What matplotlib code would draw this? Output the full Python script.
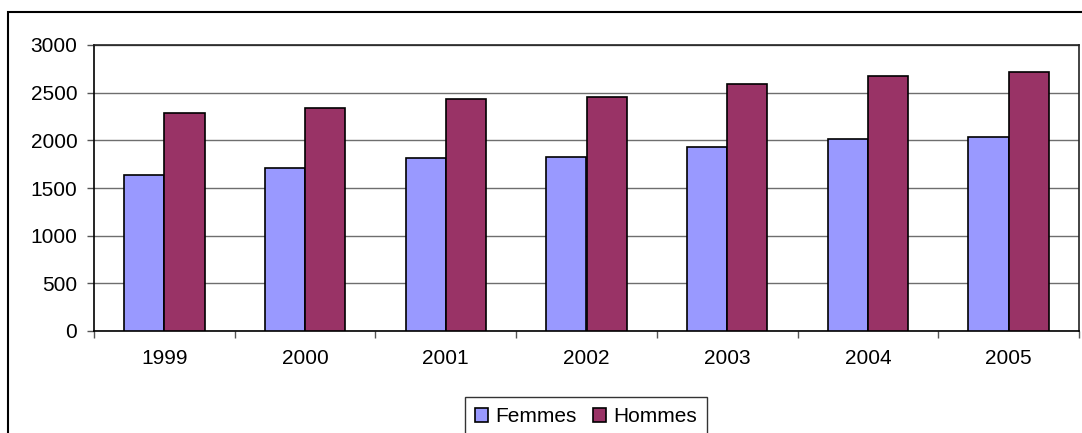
import matplotlib
matplotlib.use('Agg')
import matplotlib.pyplot as plt
import numpy as np
from matplotlib.patches import Rectangle

years = ['1999', '2000', '2001', '2002', '2003', '2004', '2005']
femmes = [1635, 1714, 1812, 1826, 1927, 2011, 2039]
hommes = [2291, 2339, 2437, 2454, 2587, 2675, 2721]

plt.rcParams['font.family'] = ['Liberation Sans', 'DejaVu Sans']
fs = 15

fig = plt.figure(figsize=(10.82, 4.33), dpi=100)
ax = fig.add_axes([94/1082, 1 - 331/433, (1079 - 94)/1082, (331 - 45)/433])

x = np.arange(len(years))
w = 1 / 3.5
ax.bar(x - w/2, femmes, w, color='#9999ff', edgecolor='black', linewidth=1.2,
       label='Femmes', zorder=3)
ax.bar(x + w/2, hommes, w, color='#993366', edgecolor='black', linewidth=1.2,
       label='Hommes', zorder=3)

ax.set_xlim(-0.5, len(years) - 0.5)
ax.set_ylim(0, 3000)
ax.set_yticks(range(0, 3001, 500))
ax.yaxis.grid(True, color='#6e6e6e', linewidth=1, zorder=0)

# year labels at centres, tick marks between the groups
ax.set_xticks(x)
ax.set_xticklabels(years)
ax.tick_params(axis='x', which='major', length=0, pad=13, labelsize=fs)
ax.set_xticks(np.arange(-0.5, len(years)), minor=True)
ax.tick_params(axis='x', which='minor', length=5, width=1, color='#555555')
ax.tick_params(axis='y', length=5, width=1, color='#555555', pad=7, labelsize=fs)

for s in ['left', 'bottom']:
    ax.spines[s].set_color('black')
    ax.spines[s].set_linewidth(1.2)
for s in ['top', 'right']:
    ax.spines[s].set_color('#222222')
    ax.spines[s].set_linewidth(1.2)

leg = fig.legend(loc='upper left', bbox_to_anchor=(465/1082, 1 - 397/433),
                 ncol=2, fontsize=fs, frameon=True, fancybox=False,
                 handlelength=0.6, handleheight=0.6, handletextpad=0.35,
                 columnspacing=0.8, borderpad=0.5, borderaxespad=0)
leg.get_frame().set_edgecolor('black')
leg.get_frame().set_linewidth(1)

# outer chart border, cut by the image edges
fig.add_artist(Rectangle((8/1082, -0.2), 1.2, 1 - 12/433 + 0.2,
                         transform=fig.transFigure, fill=False,
                         edgecolor='black', linewidth=1.5, clip_on=False))

fig.savefig('out.png', dpi=100)
